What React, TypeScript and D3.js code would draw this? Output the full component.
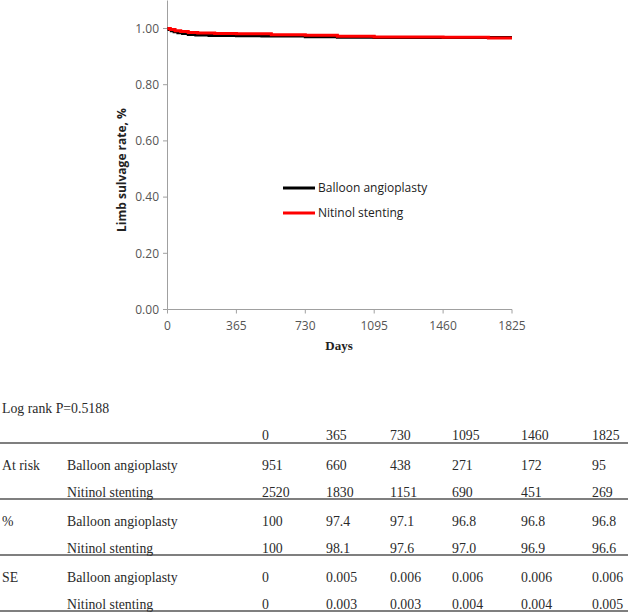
import React from "react";
import * as d3 from "d3";

const balloonDays = [0, 8, 20, 35, 55, 80, 110, 150, 220, 365, 500, 730, 900, 1095, 1460, 1825];
const balloonSurv = [1.0, 0.996, 0.992, 0.988, 0.985, 0.982, 0.979, 0.977, 0.975, 0.974, 0.973, 0.971, 0.969, 0.968, 0.968, 0.968];
const nitinolDays = [0, 15, 40, 70, 110, 160, 250, 365, 550, 730, 900, 1095, 1460, 1700, 1825];
const nitinolSurv = [1.0, 0.996, 0.992, 0.989, 0.986, 0.984, 0.982, 0.981, 0.978, 0.976, 0.972, 0.970, 0.969, 0.966, 0.966];

const xTicks = [0, 365, 730, 1095, 1460, 1825];
const yTicks = [0, 0.2, 0.4, 0.6, 0.8, 1.0];

const seriesNames = ["Balloon angioplasty", "Nitinol stenting"];
const seriesColors = ["#000000", "#ff0000"];

const tableHeader = ["0", "365", "730", "1095", "1460", "1825"];
const sectionNames = ["At risk", "%", "SE"];
const atRiskBalloon = ["951", "660", "438", "271", "172", "95"];
const atRiskNitinol = ["2520", "1830", "1151", "690", "451", "269"];
const pctBalloon = ["100", "97.4", "97.1", "96.8", "96.8", "96.8"];
const pctNitinol = ["100", "98.1", "97.6", "97.0", "96.9", "96.6"];
const seBalloon = ["0", "0.005", "0.006", "0.006", "0.006", "0.006"];
const seNitinol = ["0", "0.003", "0.003", "0.004", "0.004", "0.005"];

const W = 630;
const H = 613;

export default function App() {
  const x = d3.scaleLinear().domain([0, 1825]).range([167.5, 512]);
  const y = d3.scaleLinear().domain([0, 1]).range([309.5, 28.5]);
  const line = d3
    .line<[number, number]>()
    .x((d) => x(d[0]))
    .y((d) => y(d[1]))
    .curve(d3.curveStepAfter);

  const bData: [number, number][] = balloonDays.map((d, i) => [d, balloonSurv[i]]);
  const nData: [number, number][] = nitinolDays.map((d, i) => [d, nitinolSurv[i]]);

  const colX = [262, 326, 390, 452, 521, 592];
  const serif = "'Liberation Serif', 'Times New Roman', serif";
  const sans = "'Open Sans', 'DejaVu Sans', sans-serif";
  const tableFont = 13.8;
  const tableColor = "#2a2a2a";

  const sections = [
    { name: sectionNames[0], rows: [atRiskBalloon, atRiskNitinol] },
    { name: sectionNames[1], rows: [pctBalloon, pctNitinol] },
    { name: sectionNames[2], rows: [seBalloon, seNitinol] },
  ];

  return (
    <svg
      width={W}
      height={H}
      style={{ position: "absolute", left: 0, top: 0, display: "block", background: "#fff" }}
    >
      {/* axes */}
      <line x1={167.5} x2={167.5} y1={y(1) - 28} y2={y(0)} stroke="#a0a0a0" strokeWidth={1} />
      <line x1={167.5} x2={x(1825)} y1={y(0)} y2={y(0)} stroke="#a0a0a0" strokeWidth={1} />
      {yTicks.map((t) => (
        <g key={"y" + t}>
          <line x1={163} x2={167.5} y1={y(t)} y2={y(t)} stroke="#a0a0a0" />
          <text
            x={159}
            y={y(t)}
            dy="0.35em"
            textAnchor="end"
            fontFamily={sans}
            fontSize={12}
            fill="#555"
          >
            {t.toFixed(2)}
          </text>
        </g>
      ))}
      {xTicks.map((t) => (
        <g key={"x" + t}>
          <line x1={x(t)} x2={x(t)} y1={y(0)} y2={y(0) + 4} stroke="#a0a0a0" />
          <text
            x={x(t)}
            y={y(0) + 20}
            textAnchor="middle"
            fontFamily={sans}
            fontSize={12}
            fill="#555"
          >
            {t}
          </text>
        </g>
      ))}
      <text
        x={339}
        y={350}
        textAnchor="middle"
        fontFamily={serif}
        fontWeight="bold"
        fontSize={13}
        fill="#222"
      >
        Days
      </text>
      <text
        transform={`translate(126, 170) rotate(-90)`}
        textAnchor="middle"
        fontFamily={sans}
        fontWeight="bold"
        fontSize={12}
        fill="#222"
      >
        Limb sulvage rate, %
      </text>

      {/* curves */}
      <path d={line(bData) || ""} fill="none" stroke={seriesColors[0]} strokeWidth={3} />
      <path d={line(nData) || ""} fill="none" stroke={seriesColors[1]} strokeWidth={3} />

      {/* legend */}
      {seriesNames.map((n, i) => (
        <g key={n}>
          <line
            x1={283}
            x2={315}
            y1={188 + i * 25}
            y2={188 + i * 25}
            stroke={seriesColors[i]}
            strokeWidth={3}
          />
          <text x={318} y={188 + i * 25} dy="0.35em" fontFamily={sans} fontSize={12} fill="#222">
            {n}
          </text>
        </g>
      ))}

      {/* table */}
      <text x={2} y={413} fontFamily={serif} fontSize={tableFont} fill={tableColor}>
        Log rank P=0.5188
      </text>
      {tableHeader.map((h, i) => (
        <text key={"h" + i} x={colX[i]} y={440} fontFamily={serif} fontSize={tableFont} fill={tableColor}>
          {h}
        </text>
      ))}
      {[443, 499, 555, 611].map((ly) => (
        <line key={"l" + ly} x1={0} x2={628} y1={ly} y2={ly} stroke="#555" strokeWidth={1.5} />
      ))}
      {sections.map((s, si) => {
        const base = 470 + si * 56;
        return (
          <g key={s.name}>
            <text x={2} y={base} fontFamily={serif} fontSize={tableFont} fill={tableColor}>
              {s.name}
            </text>
            {s.rows.map((row, ri) => (
              <g key={ri}>
                <text x={67} y={base + ri * 27} fontFamily={serif} fontSize={tableFont} fill={tableColor}>
                  {seriesNames[ri]}
                </text>
                {row.map((v, ci) => (
                  <text
                    key={ci}
                    x={colX[ci]}
                    y={base + ri * 27}
                    fontFamily={serif}
                    fontSize={tableFont}
                    fill={tableColor}
                  >
                    {v}
                  </text>
                ))}
              </g>
            ))}
          </g>
        );
      })}
    </svg>
  );
}
